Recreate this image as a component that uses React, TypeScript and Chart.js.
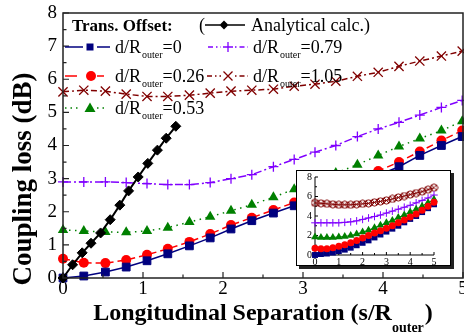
import React, { useEffect, useRef } from "react";
import { Chart, registerables } from "chart.js";
Chart.register(...registerables);

// ---- data (main plot) ----
const sValues = [0, 0.26, 0.53, 0.79, 1.05, 1.31, 1.58, 1.84, 2.1, 2.36, 2.63, 2.89, 3.15, 3.41, 3.68, 3.94, 4.2, 4.46, 4.73, 4.99];
const lossD000 = [0, 0.06, 0.18, 0.33, 0.52, 0.73, 0.97, 1.21, 1.48, 1.73, 1.96, 2.18, 2.4, 2.63, 2.86, 3.1, 3.36, 3.7, 4.0, 4.27];
const lossD026 = [0.58, 0.46, 0.45, 0.54, 0.7, 0.88, 1.09, 1.33, 1.6, 1.82, 2.05, 2.28, 2.51, 2.74, 2.98, 3.23, 3.5, 3.82, 4.15, 4.45];
const lossD053 = [1.45, 1.42, 1.39, 1.38, 1.42, 1.52, 1.69, 1.85, 2.03, 2.21, 2.44, 2.68, 2.92, 3.17, 3.42, 3.7, 3.97, 4.21, 4.45, 4.73];
const lossD079 = [2.9, 2.9, 2.9, 2.88, 2.85, 2.82, 2.82, 2.88, 3.0, 3.12, 3.36, 3.58, 3.8, 4.0, 4.27, 4.5, 4.7, 4.92, 5.15, 5.36];
const lossD105 = [5.62, 5.67, 5.64, 5.55, 5.48, 5.48, 5.52, 5.58, 5.64, 5.67, 5.7, 5.79, 5.85, 5.94, 6.09, 6.21, 6.39, 6.55, 6.7, 6.85];
const analyticS = [0, 0.12, 0.24, 0.35, 0.47, 0.59, 0.71, 0.82, 0.94, 1.06, 1.18, 1.29, 1.41];
const analyticLoss = [0, 0.4, 0.76, 1.05, 1.36, 1.76, 2.2, 2.63, 3.05, 3.46, 3.86, 4.22, 4.58];

// ---- data (inset) ----
const insetS = [0, 0.25, 0.5, 0.75, 1, 1.25, 1.5, 1.75, 2, 2.25, 2.5, 2.75, 3, 3.25, 3.5, 3.75, 4, 4.25, 4.5, 4.75, 5];
const insetD000 = [0, 0.1, 0.15, 0.25, 0.4, 0.55, 0.75, 1.0, 1.25, 1.5, 1.8, 2.1, 2.4, 2.7, 3.0, 3.35, 3.7, 4.0, 4.4, 4.8, 5.2];
const insetD026 = [0.7, 0.65, 0.65, 0.75, 0.9, 1.05, 1.25, 1.5, 1.75, 2.0, 2.25, 2.5, 2.75, 3.0, 3.3, 3.6, 3.9, 4.2, 4.6, 5.0, 5.4];
const insetD053 = [1.85, 1.8, 1.8, 1.8, 1.85, 1.9, 2.0, 2.15, 2.35, 2.55, 2.8, 3.05, 3.3, 3.55, 3.85, 4.1, 4.4, 4.7, 5.0, 5.35, 5.7];
const insetD079 = [3.3, 3.3, 3.3, 3.3, 3.3, 3.35, 3.4, 3.5, 3.65, 3.8, 3.95, 4.1, 4.3, 4.5, 4.7, 4.9, 5.1, 5.35, 5.6, 5.85, 6.15];
const insetD105 = [5.35, 5.3, 5.25, 5.2, 5.15, 5.15, 5.15, 5.2, 5.25, 5.3, 5.4, 5.5, 5.6, 5.75, 5.9, 6.05, 6.2, 6.35, 6.5, 6.7, 6.9];

// ---- labels ----
const offsetLabels = ["0", "0.26", "0.53", "0.79", "1.05"];
const legendTitle = "Trans. Offset:";
const analyticLabel = "Analytical calc.)";
const yTitle = "Coupling loss (dB)";
const xTitleMain = "Longitudinal Separation (s/R";
const xTitleSub = "outer";

const SERIF = '"Liberation Serif", "Times New Roman", serif';
const NAVY = "#00007f";
const RED = "#ff0000";
const GREEN = "#008000";
const PURPLE = "#8000ff";
const DARKRED = "#800000";

function pts(xs: number[], ys: number[]) {
  return xs.map((x, i) => ({ x, y: ys[i] }));
}

function drawMarker(ctx: CanvasRenderingContext2D, kind: string, cx: number, cy: number, color: string) {
  ctx.save();
  ctx.fillStyle = color;
  ctx.strokeStyle = color;
  ctx.setLineDash([]);
  ctx.lineWidth = 1.3;
  ctx.beginPath();
  if (kind === "square") {
    ctx.fillRect(cx - 3.5, cy - 3.5, 7, 7);
  } else if (kind === "circle") {
    ctx.arc(cx, cy, 5, 0, Math.PI * 2);
    ctx.fill();
  } else if (kind === "triangle") {
    ctx.moveTo(cx, cy - 5.5);
    ctx.lineTo(cx + 5.5, cy + 4);
    ctx.lineTo(cx - 5.5, cy + 4);
    ctx.closePath();
    ctx.fill();
  } else if (kind === "plus") {
    ctx.moveTo(cx - 5, cy);
    ctx.lineTo(cx + 5, cy);
    ctx.moveTo(cx, cy - 5);
    ctx.lineTo(cx, cy + 5);
    ctx.stroke();
  } else if (kind === "x") {
    ctx.moveTo(cx - 4.5, cy - 4.5);
    ctx.lineTo(cx + 4.5, cy + 4.5);
    ctx.moveTo(cx + 4.5, cy - 4.5);
    ctx.lineTo(cx - 4.5, cy + 4.5);
    ctx.stroke();
  } else if (kind === "diamond") {
    ctx.moveTo(cx, cy - 4.5);
    ctx.lineTo(cx + 4.5, cy);
    ctx.lineTo(cx, cy + 4.5);
    ctx.lineTo(cx - 4.5, cy);
    ctx.closePath();
    ctx.fill();
  }
  ctx.restore();
}

function drawSeg(ctx: CanvasRenderingContext2D, x1: number, x2: number, y: number, color: string, dash: number[], w = 1.5) {
  ctx.save();
  ctx.strokeStyle = color;
  ctx.lineWidth = w;
  ctx.setLineDash(dash);
  ctx.beginPath();
  ctx.moveTo(x1, y);
  ctx.lineTo(x2, y);
  ctx.stroke();
  ctx.restore();
}

function drawOffsetLabel(ctx: CanvasRenderingContext2D, x: number, cy: number, value: string) {
  const base = cy + 6;
  ctx.save();
  ctx.fillStyle = "#000";
  ctx.textAlign = "left";
  ctx.textBaseline = "alphabetic";
  ctx.font = `18px ${SERIF}`;
  ctx.fillText("d/R", x, base);
  const w1 = ctx.measureText("d/R").width;
  ctx.font = `10px ${SERIF}`;
  ctx.fillText("outer", x + w1 + 1, base + 5);
  const w2 = ctx.measureText("outer").width;
  ctx.font = `18px ${SERIF}`;
  ctx.fillText("=" + value, x + w1 + 1 + w2, base);
  ctx.restore();
}

const mainDecor = {
  id: "mainDecor",
  afterDraw(chart: any) {
    const { ctx, chartArea: a } = chart;
    const xs = chart.scales.x;
    const ys = chart.scales.y;
    ctx.save();
    // frame
    ctx.strokeStyle = "#222";
    ctx.lineWidth = 1.5;
    ctx.setLineDash([]);
    ctx.strokeRect(a.left, a.top, a.right - a.left, a.bottom - a.top);
    // inward ticks
    ctx.lineWidth = 1.2;
    ctx.beginPath();
    for (let k = 0; k <= 16; k++) {
      const v = k * 0.5;
      const py = ys.getPixelForValue(v);
      const len = k % 2 === 0 ? 6 : 3.5;
      ctx.moveTo(a.left, py);
      ctx.lineTo(a.left + len, py);
    }
    for (let k = 0; k <= 10; k++) {
      const v = k * 0.5;
      const px = xs.getPixelForValue(v);
      const len = k % 2 === 0 ? 6 : 3.5;
      ctx.moveTo(px, a.bottom);
      ctx.lineTo(px, a.bottom - len);
    }
    ctx.stroke();

    // y title
    ctx.fillStyle = "#000";
    ctx.save();
    ctx.translate(24, 179);
    ctx.rotate(-Math.PI / 2);
    ctx.font = `bold 27px ${SERIF}`;
    ctx.textAlign = "center";
    ctx.textBaseline = "middle";
    ctx.fillText(yTitle, 0, 0);
    ctx.restore();

    // x title with subscript
    ctx.textAlign = "left";
    ctx.textBaseline = "alphabetic";
    ctx.font = `bold 24px ${SERIF}`;
    const wMain = ctx.measureText(xTitleMain).width;
    const wParen = ctx.measureText(")").width;
    ctx.font = `bold 14px ${SERIF}`;
    const wSub = ctx.measureText(xTitleSub).width;
    const total = wMain + wSub + wParen + 1;
    const cx = (a.left + a.right) / 2;
    const tx = cx - total / 2;
    ctx.font = `bold 24px ${SERIF}`;
    ctx.fillText(xTitleMain, tx, 320);
    ctx.font = `bold 14px ${SERIF}`;
    ctx.fillText(xTitleSub, tx + wMain, 332);
    ctx.font = `bold 24px ${SERIF}`;
    ctx.fillText(")", tx + wMain + wSub + 1, 320);

    // legend
    ctx.font = `bold 17px ${SERIF}`;
    ctx.fillText(legendTitle, 72, 31);
    ctx.font = `18px ${SERIF}`;
    ctx.fillText("(", 199, 31);
    drawSeg(ctx, 205, 220, 25, "#000", [], 1.5);
    drawSeg(ctx, 228, 245, 25, "#000", [], 1.5);
    drawMarker(ctx, "diamond", 224, 25, "#000");
    ctx.fillStyle = "#000";
    ctx.font = `18px ${SERIF}`;
    ctx.fillText(analyticLabel, 251, 31);

    // row 2
    drawSeg(ctx, 65, 83, 47, NAVY, [], 1.5);
    drawSeg(ctx, 97, 110, 47, NAVY, [], 1.5);
    drawMarker(ctx, "square", 90, 47, NAVY);
    drawOffsetLabel(ctx, 115, 47, offsetLabels[0]);
    drawSeg(ctx, 208, 221, 47, PURPLE, [5, 3, 1.5, 3], 1.3);
    drawSeg(ctx, 235, 248, 47, PURPLE, [1.5, 3, 5, 3], 1.3);
    drawMarker(ctx, "plus", 228, 47, PURPLE);
    drawOffsetLabel(ctx, 253, 47, offsetLabels[3]);

    // row 3
    drawSeg(ctx, 65, 77, 76, RED, [], 1.5);
    drawSeg(ctx, 97, 104, 76, RED, [], 1.5);
    drawMarker(ctx, "circle", 91, 76, RED);
    drawOffsetLabel(ctx, 115, 76, offsetLabels[1]);
    drawSeg(ctx, 207, 221, 76, DARKRED, [5, 3, 1.5, 3], 1.3);
    drawSeg(ctx, 235, 248, 76, DARKRED, [1.5, 3, 5, 3], 1.3);
    drawMarker(ctx, "x", 228, 76, DARKRED);
    drawOffsetLabel(ctx, 253, 76, offsetLabels[4]);

    // row 4
    drawSeg(ctx, 65, 81, 108, GREEN, [1.5, 4], 1.5);
    drawSeg(ctx, 97, 104, 108, GREEN, [1.5, 4], 1.5);
    drawMarker(ctx, "triangle", 90, 108, GREEN);
    drawOffsetLabel(ctx, 115, 108, offsetLabels[2]);

    ctx.restore();
  },
};

const insetDecor = {
  id: "insetDecor",
  beforeDraw(chart: any) {
    const { ctx } = chart;
    ctx.save();
    ctx.fillStyle = "#222";
    ctx.fillRect(3, 3, 155, 96);
    ctx.fillStyle = "#fff";
    ctx.fillRect(0, 0, 155, 96);
    ctx.strokeStyle = "#000";
    ctx.lineWidth = 1;
    ctx.strokeRect(0.5, 0.5, 154, 95);
    ctx.restore();
  },
  beforeDatasetsDraw(chart: any) {
    const { ctx, chartArea: a } = chart;
    const xs = chart.scales.x;
    const ys = chart.scales.y;
    ctx.save();
    ctx.strokeStyle = "#000";
    ctx.lineWidth = 1;
    ctx.beginPath();
    ctx.moveTo(a.left, a.top);
    ctx.lineTo(a.left, a.bottom);
    ctx.lineTo(a.right, a.bottom);
    for (let k = 0; k <= 8; k++) {
      const py = ys.getPixelForValue(k);
      const len = k % 2 === 0 ? 3 : 2;
      ctx.moveTo(a.left, py);
      ctx.lineTo(a.left + len, py);
    }
    for (let k = 0; k <= 10; k++) {
      const px = xs.getPixelForValue(k * 0.5);
      const len = k % 2 === 0 ? 3 : 2;
      ctx.moveTo(px, a.bottom);
      ctx.lineTo(px, a.bottom - len);
    }
    ctx.stroke();
    ctx.restore();
  },
};

function makeOtimes(color: string) {
  const c = document.createElement("canvas");
  c.width = 9;
  c.height = 9;
  const g = c.getContext("2d")!;
  g.strokeStyle = color;
  g.lineWidth = 1;
  g.beginPath();
  g.arc(4.5, 4.5, 3.6, 0, Math.PI * 2);
  g.moveTo(2, 2);
  g.lineTo(7, 7);
  g.moveTo(7, 2);
  g.lineTo(2, 7);
  g.stroke();
  return c;
}

export default function App() {
  const mainRef = useRef<HTMLCanvasElement>(null);
  const insetRef = useRef<HTMLCanvasElement>(null);

  useEffect(() => {
    document.body.style.margin = "0";
    const mainCfg: any = {
      type: "line",
      data: {
        datasets: [
          {
            data: pts(analyticS, analyticLoss),
            borderColor: "#000",
            backgroundColor: "#000",
            borderWidth: 2,
            pointStyle: "rectRot",
            pointRadius: 5,
            pointBackgroundColor: "#000",
            pointBorderColor: "#000",
            pointBorderWidth: 1,
          },
          {
            data: pts(sValues, lossD000),
            borderColor: NAVY,
            borderWidth: 1.5,
            pointStyle: "rect",
            pointRadius: 5.5,
            pointBackgroundColor: NAVY,
            pointBorderColor: NAVY,
            pointBorderWidth: 1,
          },
          {
            data: pts(sValues, lossD026),
            borderColor: RED,
            borderWidth: 1.5,
            borderDash: [7, 4],
            pointStyle: "circle",
            pointRadius: 5,
            pointBackgroundColor: RED,
            pointBorderColor: RED,
            pointBorderWidth: 0,
          },
          {
            data: pts(sValues, lossD053),
            borderColor: GREEN,
            borderWidth: 1.5,
            borderDash: [1.5, 4.5],
            pointStyle: "triangle",
            pointRadius: 6,
            pointBackgroundColor: GREEN,
            pointBorderColor: GREEN,
            pointBorderWidth: 0,
          },
          {
            data: pts(sValues, lossD079),
            borderColor: PURPLE,
            borderWidth: 1.5,
            borderDash: [8, 3, 2, 3],
            pointStyle: "cross",
            pointRadius: 5,
            pointBorderColor: PURPLE,
            pointBackgroundColor: PURPLE,
            pointBorderWidth: 1.3,
          },
          {
            data: pts(sValues, lossD105),
            borderColor: DARKRED,
            borderWidth: 1.5,
            borderDash: [6, 3, 2, 3],
            pointStyle: "crossRot",
            pointRadius: 6.5,
            pointBorderColor: DARKRED,
            pointBackgroundColor: DARKRED,
            pointBorderWidth: 1.3,
          },
        ],
      },
      options: {
        responsive: false,
        animation: false,
        events: [],
        clip: false,
        layout: { autoPadding: false, padding: { top: 13, right: 1, left: 0, bottom: 0 } },
        elements: { line: { tension: 0 } },
        scales: {
          x: {
            type: "linear",
            min: 0,
            max: 5,
            ticks: { stepSize: 1, color: "#000", font: { family: SERIF, size: 19 }, padding: 0, maxRotation: 0 },
            grid: { display: false, drawTicks: false },
            border: { display: false },
            afterFit(s: any) {
              s.height = 57;
              s.paddingLeft = 0;
              s.paddingRight = 0;
            },
          },
          y: {
            type: "linear",
            min: 0,
            max: 8,
            ticks: { stepSize: 1, color: "#000", font: { family: SERIF, size: 19 }, padding: 6 },
            grid: { display: false, drawTicks: false },
            border: { display: false },
            afterFit(s: any) {
              s.width = 63;
              s.paddingTop = 0;
              s.paddingBottom = 0;
            },
          },
        },
        plugins: { legend: { display: false }, tooltip: { enabled: false } },
      },
      plugins: [mainDecor],
    };

    const otimes = makeOtimes(DARKRED);
    const insetCfg: any = {
      type: "line",
      data: {
        datasets: [
          {
            data: pts(insetS, insetD026),
            borderColor: RED,
            borderWidth: 1,
            pointStyle: "circle",
            pointRadius: 3.5,
            pointBackgroundColor: RED,
            pointBorderWidth: 0,
          },
          {
            data: pts(insetS, insetD053),
            borderColor: GREEN,
            borderWidth: 1,
            pointStyle: "triangle",
            pointRadius: 4.5,
            pointBackgroundColor: GREEN,
            pointBorderWidth: 0,
          },
          {
            data: pts(insetS, insetD000),
            borderColor: NAVY,
            borderWidth: 1,
            pointStyle: "rect",
            pointRadius: 4.2,
            pointBackgroundColor: NAVY,
            pointBorderWidth: 0,
          },
          {
            data: pts(insetS, insetD079),
            borderColor: PURPLE,
            borderWidth: 1,
            pointStyle: "cross",
            pointRadius: 3.8,
            pointBorderColor: PURPLE,
            pointBorderWidth: 1,
          },
          {
            data: pts(insetS, insetD105),
            borderColor: DARKRED,
            borderWidth: 1,
            pointStyle: otimes,
            pointRadius: 4,
          },
        ],
      },
      options: {
        responsive: false,
        animation: false,
        events: [],
        clip: false,
        layout: { autoPadding: false, padding: { top: 7, right: 20, left: 0, bottom: 0 } },
        elements: { line: { tension: 0 } },
        scales: {
          x: {
            type: "linear",
            min: 0,
            max: 5,
            ticks: { stepSize: 1, color: "#000", font: { family: SERIF, size: 10 }, padding: 1, maxRotation: 0 },
            grid: { display: false, drawTicks: false },
            border: { display: false },
            afterFit(s: any) {
              s.height = 14;
              s.paddingLeft = 0;
              s.paddingRight = 0;
            },
          },
          y: {
            type: "linear",
            min: 0,
            max: 8,
            ticks: { stepSize: 2, color: "#000", font: { family: SERIF, size: 10 }, padding: 3 },
            grid: { display: false, drawTicks: false },
            border: { display: false },
            afterFit(s: any) {
              s.width = 19;
              s.paddingTop = 0;
              s.paddingBottom = 0;
            },
          },
        },
        plugins: { legend: { display: false }, tooltip: { enabled: false } },
      },
      plugins: [insetDecor],
    };

    const main = new Chart(mainRef.current!, mainCfg);
    const inset = new Chart(insetRef.current!, insetCfg);
    return () => {
      main.destroy();
      inset.destroy();
    };
  }, []);

  return (
    <div style={{ position: "absolute", left: 0, top: 0, width: 464, height: 335, background: "#fff" }}>
      <canvas ref={mainRef} width={464} height={335} style={{ position: "absolute", left: 0, top: 0, width: 464, height: 335 }} />
      <canvas ref={insetRef} width={158} height={99} style={{ position: "absolute", left: 296, top: 170, width: 158, height: 99 }} />
    </div>
  );
}
